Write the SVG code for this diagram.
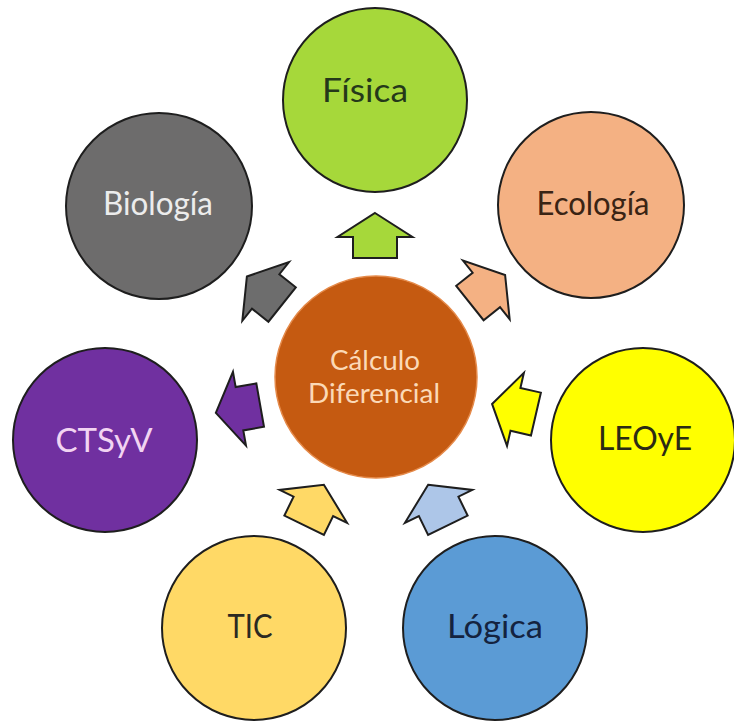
<svg xmlns="http://www.w3.org/2000/svg" width="734" height="721" viewBox="0 0 734 721">
<style>
.c{stroke:#1e1e1e;stroke-width:2}
.a{stroke:#1e1e1e;stroke-width:2;stroke-linejoin:miter}
text{font-family:Lato,"Open Sans","Liberation Sans",sans-serif;text-anchor:middle}
.t{font-size:33px}
.m{font-size:27px;fill:#fbd9b7}
</style>
<defs>
<polygon id="arrow" points="0,-22.5 37.5,1.5 22,1.5 22,22.5 -22,22.5 -22,1.5 -37.5,1.5"/>
</defs>
<rect width="734" height="721" fill="#ffffff"/>
<g id="connectors">
<use href="#arrow" class="a" fill="#a6d83a" transform="translate(375,235.5)"/>
<use href="#arrow" class="a" fill="#6d6d6d" transform="translate(264.5,290.5) rotate(-51.5)"/>
<use href="#arrow" class="a" fill="#f4b183" transform="translate(487.5,289) rotate(51.5)"/>
<use href="#arrow" class="a" fill="#7030a0" transform="translate(238,409) rotate(-100)"/>
<use href="#arrow" class="a" fill="#ffff00" transform="translate(514,409) rotate(-77)"/>
<use href="#arrow" class="a" fill="#ffd966" transform="translate(314,505) rotate(26)"/>
<use href="#arrow" class="a" fill="#adc6e8" transform="translate(438,505) rotate(-26)"/>
</g>
<g id="fisica"><circle class="c" cx="375" cy="100" r="92" fill="#a6d83a"/><text class="t" x="365" y="102" fill="#25381a" textLength="86" lengthAdjust="spacingAndGlyphs">Física</text></g>
<g id="biologia"><circle class="c" cx="159" cy="206" r="93" fill="#6d6c6c"/><text class="t" x="158" y="215" fill="#ececec" textLength="110" lengthAdjust="spacingAndGlyphs">Biología</text></g>
<g id="ecologia"><circle class="c" cx="591" cy="205" r="93" fill="#f4b183"/><text class="t" x="593" y="215" fill="#3a2414" textLength="113" lengthAdjust="spacingAndGlyphs">Ecología</text></g>
<g id="ctsyv"><circle class="c" cx="105" cy="440" r="92" fill="#7030a0"/><text class="t" x="104" y="452" fill="#f2d4f2" textLength="97" lengthAdjust="spacingAndGlyphs">CTSyV</text></g>
<g id="leoye"><circle class="c" cx="643" cy="440" r="92" fill="#ffff00"/><text class="t" x="645" y="450" fill="#2b2b14" textLength="94" lengthAdjust="spacingAndGlyphs">LEOyE</text></g>
<g id="tic"><circle class="c" cx="254" cy="628" r="92" fill="#ffd966"/><text class="t" x="250" y="638" fill="#2b2a22" textLength="45" lengthAdjust="spacingAndGlyphs">TIC</text></g>
<g id="logica"><circle class="c" cx="495" cy="628" r="92" fill="#5b9bd5"/><text class="t" x="495" y="638" fill="#14233f" textLength="96" lengthAdjust="spacingAndGlyphs">Lógica</text></g>
<g id="calculo"><circle cx="376" cy="377" r="101" fill="#c55a11" stroke="#e58a4a" stroke-width="1.5"/><text class="m" x="375" y="370" textLength="90" lengthAdjust="spacingAndGlyphs">Cálculo</text><text class="m" x="374" y="403" textLength="132" lengthAdjust="spacingAndGlyphs">Diferencial</text></g>
</svg>
